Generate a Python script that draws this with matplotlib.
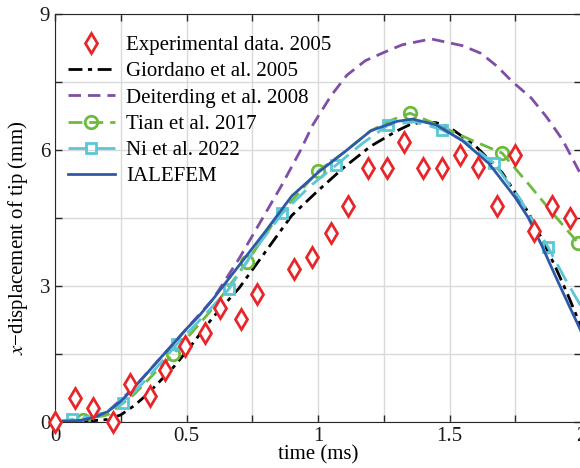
import matplotlib.pyplot as plt
from matplotlib.ticker import MultipleLocator

plt.rcParams['font.family'] = ['Liberation Serif', 'DejaVu Serif']
plt.rcParams['mathtext.fontset'] = 'stix'

# Experimental data (Giordano 2005)
exp_t = [0, 0.076, 0.144, 0.22, 0.285, 0.36, 0.42, 0.494, 0.57, 0.627, 0.707, 0.768,
         0.908, 0.977, 1.049, 1.114, 1.19, 1.262, 1.327, 1.40, 1.47, 1.54, 1.61, 1.68,
         1.75, 1.82, 1.89, 1.96]
exp_v = [0, 0.53, 0.30, 0.0, 0.83, 0.57, 1.14, 1.67, 1.96, 2.51, 2.26, 2.81,
         3.36, 3.63, 4.16, 4.76, 5.6, 5.6, 6.17, 5.6, 5.6, 5.88, 5.63, 4.76,
         5.88, 4.2, 4.76, 4.49]

# Giordano et al. 2005
gio_t = [0, 0.1, 0.2, 0.25, 0.3, 0.35, 0.4, 0.45, 0.5, 0.6, 0.7, 0.8, 0.9, 1.0, 1.1,
         1.2, 1.3, 1.35, 1.4, 1.45, 1.5, 1.6, 1.7, 1.8, 1.85, 1.9, 1.95, 2.0]
gio_v = [0, 0, 0.05, 0.15, 0.35, 0.6, 0.9, 1.2, 1.55, 2.3, 2.95, 3.75, 4.55, 5.1, 5.62,
         6.08, 6.42, 6.56, 6.62, 6.6, 6.5, 6.08, 5.5, 4.62, 4.05, 3.45, 2.8, 2.1]

# Deiterding et al. 2008
dei_t = [0, 0.1, 0.2, 0.3, 0.4, 0.5, 0.6, 0.7, 0.8, 0.86, 0.93, 0.98, 1.05, 1.11, 1.18,
         1.25, 1.32, 1.43, 1.55, 1.62, 1.68, 1.74, 1.81, 1.87, 1.93, 1.97, 2.0]
dei_v = [0, 0.02, 0.22, 0.75, 1.4, 2.05, 2.7, 3.6, 4.6, 5.2, 5.95, 6.55, 7.2, 7.65, 7.97,
         8.15, 8.32, 8.45, 8.3, 8.13, 7.85, 7.5, 7.15, 6.72, 6.22, 5.78, 5.45]

# Tian et al. 2017
tian_t = [0, 0.107, 0.2, 0.3, 0.45, 0.6, 0.73, 0.85, 1.0, 1.1, 1.2, 1.28, 1.35, 1.46,
          1.59, 1.70, 1.8, 1.9, 1.99]
tian_v = [0, 0.04, 0.15, 0.6, 1.5, 2.5, 3.53, 4.55, 5.53, 5.95, 6.42, 6.66, 6.81, 6.54,
          6.2, 5.93, 5.25, 4.55, 3.94]
tian_mk = [1, 4, 6, 8, 12, 15, 18]

# Ni et al. 2022
ni_t = [0, 0.065, 0.15, 0.26, 0.35, 0.465, 0.56, 0.66, 0.76, 0.864, 0.97, 1.07, 1.17,
        1.267, 1.37, 1.47, 1.57, 1.67, 1.77, 1.875, 1.94, 2.0]
ni_v = [0, 0.05, 0.12, 0.41, 0.95, 1.72, 2.3, 2.92, 3.8, 4.6, 5.2, 5.67, 6.15,
        6.55, 6.62, 6.45, 6.15, 5.7, 4.9, 3.85, 3.15, 2.55]
ni_mk = [1, 3, 5, 7, 9, 11, 13, 15, 17, 19]

# IALEFEM
ial_t = [0, 0.1, 0.15, 0.2, 0.25, 0.3, 0.35, 0.4, 0.45, 0.5, 0.55, 0.6, 0.7, 0.8, 0.9,
         1.0, 1.1, 1.2, 1.3, 1.36, 1.45, 1.55, 1.65, 1.75, 1.8, 1.85, 1.9, 1.95, 2.0]
ial_v = [0, 0.03, 0.1, 0.22, 0.45, 0.75, 1.07, 1.4, 1.72, 2.05, 2.35, 2.7, 3.45, 4.2,
         4.98, 5.5, 5.95, 6.42, 6.63, 6.68, 6.55, 6.2, 5.7, 4.95, 4.5, 3.9, 3.25, 2.62, 2.0]

fig = plt.figure(figsize=(5.8, 4.68), dpi=100)
ax = fig.add_axes([55 / 580, 46.3 / 468, 526 / 580, 407.7 / 468])

ax.plot(exp_t, exp_v, linestyle='none', marker='d', ms=10, mfc='white', mec='#e8262a',
        mew=2, label='Experimental data. 2005', clip_on=False, zorder=5)
ax.plot(gio_t, gio_v, color='black', lw=2, linestyle=(0, (5, 2, 1.5, 2)),
        label='Giordano et al. 2005')
ax.plot(dei_t, dei_v, color='#7f4ea8', lw=2, linestyle=(0, (4.5, 2.5)),
        label='Deiterding et al. 2008')
ax.plot(tian_t, tian_v, color='#6dbb3c', lw=2, linestyle=(0, (5, 2.5)), marker='o',
        markevery=tian_mk, ms=9, mfc='none', mew=2, label='Tian et al. 2017')
ax.plot(ni_t, ni_v, color='#5ac6d6', lw=2, linestyle=(0, (7, 3)), marker='s',
        markevery=ni_mk, ms=7.5, mfc='none', mew=2, label='Ni et al. 2022')
ax.plot(ial_t, ial_v, color='#2d5aa8', lw=2, label='IALEFEM')

ax.set_xlim(0, 2)
ax.set_ylim(0, 9)
ax.xaxis.set_major_locator(MultipleLocator(0.5))
ax.xaxis.set_minor_locator(MultipleLocator(0.25))
ax.yaxis.set_major_locator(MultipleLocator(3))
ax.yaxis.set_minor_locator(MultipleLocator(1.5))
ax.xaxis.set_major_formatter(lambda v, p: f'{v:g}')
ax.grid(True, which='both', color='#d9d9d9', lw=1)
ax.set_axisbelow(True)
ax.tick_params(which='both', direction='in', top=True, right=True, length=5,
               width=1, colors='#262626', labelsize=15, labelcolor='#1a1a1a')
for s in ax.spines.values():
    s.set_color('#262626')

ax.set_xlabel('time (ms)', fontsize=15, labelpad=0)
ax.set_ylabel('$x$\u2212displacement of tip (mm)', fontsize=15)
ax.yaxis.set_label_coords(-0.047, 0.45)

ax.legend(loc='upper left', frameon=False, fontsize=15, handlelength=2.3,
          labelspacing=0.32, borderaxespad=0.2, handletextpad=0.5,
          bbox_to_anchor=(0, 0.978))

fig.savefig('out.png', dpi=100)
